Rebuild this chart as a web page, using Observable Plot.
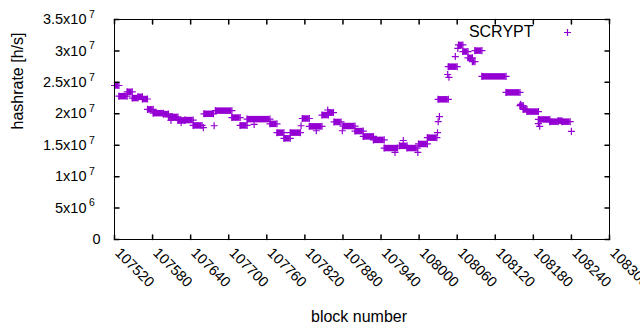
<!DOCTYPE html>
<html><head><meta charset="utf-8">
<script src="https://cdn.jsdelivr.net/npm/d3@7"></script>
<script src="https://cdn.jsdelivr.net/npm/@observablehq/plot@0.6"></script>
<style>
html,body{margin:0;padding:0;background:#fff;}
#chart svg{display:block;}
</style></head><body><div id="chart"></div>
<script>
// Runs of consecutive blocks sharing the same SCRYPT hashrate estimate
const runStart = [107520,107527,107540,107548,107557,107564,107572,107581,107597,107605,107611,107620,107631,107644,107661,107679,107705,107718,107729,107765,107776,107787,107797,107816,107827,107847,107857,107866,107880,107899,107912,107928,107945,107969,107981,107999,108013,108030,108046,108062,108069,108077,108084,108088,108099,108137,108159,108164,108170,108188,108206,108219,108225];
const runEnd   = [107527,107540,107548,107557,107564,107572,107581,107597,107605,107611,107620,107631,107644,107658,107676,107705,107718,107729,107765,107776,107787,107797,107813,107827,107847,107857,107865,107877,107899,107912,107928,107945,107966,107981,107997,108013,108028,108046,108060,108069,108077,108084,108088,108099,108137,108159,108164,108170,108188,108206,108219,108225,108238];
const runValue = [24.5e6,22.8e6,23.5e6,22.5e6,22.7e6,22.35e6,20.7e6,20.1e6,19.95e6,19.55e6,19.5e6,18.95e6,19.0e6,18.15e6,20.0e6,20.5e6,19.4e6,18.15e6,19.15e6,18.4e6,17.0e6,16.1e6,17.0e6,19.25e6,18.0e6,19.8e6,20.2e6,18.7e6,18.05e6,17.25e6,16.4e6,15.85e6,14.55e6,14.9e6,14.55e6,15.2e6,16.2e6,22.3e6,27.5e6,30.95e6,29.9e6,28.9e6,28.3e6,30.05e6,25.95e6,23.4e6,21.3e6,20.7e6,20.35e6,19.1e6,18.75e6,18.9e6,18.75e6];
// Isolated blocks
const ptBlock = [107609,107625,107660,107677,107740,107814,107838,107856,107879,107962,107975,107998,108029,108030,108032,108045,108047,108057,108061,108160,108188,108190,108240];
const ptValue = [18.93e6,18.6e6,17.8e6,18.1e6,18.3e6,18.1e6,17.3e6,20.6e6,17.3e6,13.85e6,15.75e6,13.85e6,17.0e6,18.75e6,19.55e6,26.25e6,25.8e6,29.1e6,30.4e6,21.5e6,18.45e6,18.0e6,17.2e6];

const xTicks = [107520,107580,107640,107700,107760,107820,107880,107940,108000,108060,108120,108180,108240,108300];
const yTicks = [0,5e6,10e6,15e6,20e6,25e6,30e6,35e6];
const yTickMantissa = ["0","5","1","1.5","2","2.5","3","3.5"];
const yTickExp = ["","6","7","7","7","7","7","7"];
const seriesName = "SCRYPT";
const xLabel = "block number";
const yLabel = "hashrate [h/s]";

const runs = runStart.map((s, i) => ({s, e: runEnd[i], v: runValue[i]}));
const ends = runs.flatMap(r => [{b: r.s, v: r.v}, {b: r.e, v: r.v}]);
const pts = ptBlock.map((b, i) => ({b, v: ptValue[i]}));
const yt = yTicks.map((v, i) => ({v, m: yTickMantissa[i], e: yTickExp[i]}));

const color = "#9400d3";
const tickShape = {draw(ctx, l) { ctx.moveTo(0, 0); ctx.lineTo(0, -l); }};
const tl = 4.5;
const tickFont = 14.5;

const chart = Plot.plot({
  width: 640, height: 330,
  marginLeft: 114, marginRight: 31, marginTop: 19, marginBottom: 91,
  style: {fontFamily: "'Liberation Sans', Arial, sans-serif", background: "#fff", color: "#000"},
  x: {domain: [107520, 108300], axis: null},
  y: {domain: [0, 35e6], axis: null},
  marks: [
    // data
    Plot.ruleY(runs, {y: "v", x1: "s", x2: "e", stroke: color, strokeWidth: 6.5, strokeLinecap: "butt"}),
    Plot.dot(ends, {x: "b", y: "v", symbol: "plus", r: 2.4, stroke: color, strokeWidth: 1.2}),
    Plot.dot(pts, {x: "b", y: "v", symbol: "plus", r: 2.4, stroke: color, strokeWidth: 1.2}),
    // frame and inward ticks on all sides
    Plot.frame({stroke: "#000", strokeWidth: 1}),
    Plot.vector(xTicks, {x: d => d, frameAnchor: "bottom", length: tl, anchor: "start", rotate: 0, shape: tickShape, stroke: "#000"}),
    Plot.vector(xTicks, {x: d => d, frameAnchor: "top", length: tl, anchor: "start", rotate: 180, shape: tickShape, stroke: "#000"}),
    Plot.vector(yTicks, {y: d => d, frameAnchor: "left", length: tl, anchor: "start", rotate: 90, shape: tickShape, stroke: "#000"}),
    Plot.vector(yTicks, {y: d => d, frameAnchor: "right", length: tl, anchor: "start", rotate: -90, shape: tickShape, stroke: "#000"}),
    // x tick labels, rotated
    Plot.text(xTicks, {x: d => d, frameAnchor: "bottom", text: d => String(d), rotate: 45, textAnchor: "start", lineAnchor: "middle", dx: 3, dy: 11, fontSize: tickFont, fill: "#000"}),
    // y tick labels with superscript exponent
    Plot.text(yt.filter(d => d.e), {y: "v", frameAnchor: "left", text: d => d.m + "x10", textAnchor: "end", lineAnchor: "middle", dx: -28, fontSize: tickFont, fill: "#000"}),
    Plot.text(yt.filter(d => d.e), {y: "v", frameAnchor: "left", text: "e", textAnchor: "start", lineAnchor: "middle", dx: -25.5, dy: -5, fontSize: 10.5, fill: "#000"}),
    Plot.text(yt.filter(d => !d.e), {y: "v", frameAnchor: "left", text: "m", textAnchor: "end", lineAnchor: "middle", dx: -14, fontSize: tickFont, fill: "#000"}),
    // axis titles
    Plot.text([yLabel], {frameAnchor: "left", lineAnchor: "middle", dx: -97, rotate: -90, fontSize: 16, fill: "#000"}),
    Plot.text([xLabel], {frameAnchor: "bottom", lineAnchor: "middle", dx: -3, dy: 77, fontSize: 16, fill: "#000"}),
    // legend
    Plot.text([seriesName], {frameAnchor: "top-right", textAnchor: "end", lineAnchor: "middle", dx: -76, dy: 12.5, fontSize: 16, fill: "#000"}),
    Plot.dot([seriesName], {frameAnchor: "top-right", dx: -42, dy: 13, symbol: "plus", r: 2.4, stroke: color, strokeWidth: 1.2})
  ]
});
document.getElementById("chart").appendChild(chart);
</script>
</body></html>
